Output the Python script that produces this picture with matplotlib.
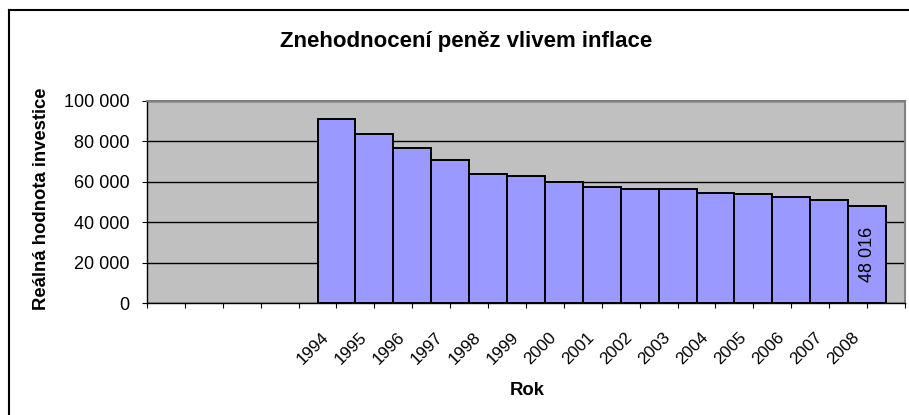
import matplotlib
matplotlib.use('Agg')
import matplotlib.pyplot as plt
from matplotlib.lines import Line2D

plt.rcParams['font.family'] = ['Liberation Sans', 'DejaVu Sans']

# -------------------------------
# Data
# -------------------------------
years = ['1994', '1995', '1996', '1997', '1998', '1999', '2000', '2001',
         '2002', '2003', '2004', '2005', '2006', '2007', '2008']
values = [90800, 83500, 76700, 70700, 63700, 62700, 60000, 57400,
          56400, 56300, 54600, 53800, 52600, 51100, 48016]
last_label = '48 016'

empty_slots = 5    # empty categories before 1994
n_slots = 20       # categories on the axis
y_ticks = [0, 20000, 40000, 60000, 80000, 100000]

# -------------------------------
# Figure
# -------------------------------
fig = plt.figure(figsize=(9.09, 4.15), dpi=100)
ax = fig.add_axes([0.1617, 0.2692, 0.8339, 0.4881])
ax.set_facecolor('#C0C0C0')

x = [empty_slots + i for i in range(len(values))]
ax.bar(x, values, width=1.0, color='#9999FF', edgecolor='black',
       linewidth=1.4, zorder=2)

ax.set_xlim(0, n_slots)
ax.set_ylim(0, 100000)

# gridlines
ax.set_yticks(y_ticks)
ax.set_yticklabels([f"{v:,}".replace(',', ' ') for v in y_ticks], fontsize=13)
ax.yaxis.grid(True, color='black', linewidth=1)
ax.set_axisbelow(True)

# x ticks: marks on category boundaries, labels between them
ax.set_xticks(range(n_slots + 1))
ax.set_xticklabels([])
ax.set_xticks([p - 0.4 for p in x], minor=True)
ax.set_xticklabels(years, minor=True, rotation=45, ha='right', va='top',
                   rotation_mode='anchor', fontsize=12.3)
ax.tick_params(axis='x', which='minor', length=0, pad=19)
ax.tick_params(axis='both', which='major', direction='out', length=3.6,
               width=0.8, colors='black', pad=9)

for side in ['left', 'bottom']:
    ax.spines[side].set_color('black')
    ax.spines[side].set_linewidth(1)
for side in ['top', 'right']:
    ax.spines[side].set_color('#808080')
    ax.spines[side].set_linewidth(1.5)

# data label on the last bar
ax.text(x[-1], values[-1] / 2, last_label, rotation=90, ha='center',
        va='center', fontsize=13, zorder=3)

# titles
fig.text(0.513, 0.899, 'Znehodnocení peněz vlivem inflace',
         ha='center', va='center', fontsize=16, fontweight='bold')
fig.text(0.0457, 0.522, 'Reálná hodnota investice', rotation=90,
         ha='center', va='center', fontsize=13.3, fontweight='bold')
fig.text(0.580, 0.058, 'Rok', ha='center', va='center',
         fontsize=13.3, fontweight='bold')

# outer chart frame (right and bottom are cut off)
fig.add_artist(Line2D([0.0099, 0.0099], [0, 0.976], color='black', lw=1.5,
                      transform=fig.transFigure))
fig.add_artist(Line2D([0.0099, 1], [0.976, 0.976], color='black', lw=1.5,
                      transform=fig.transFigure))

plt.savefig('out.png', dpi=100)
